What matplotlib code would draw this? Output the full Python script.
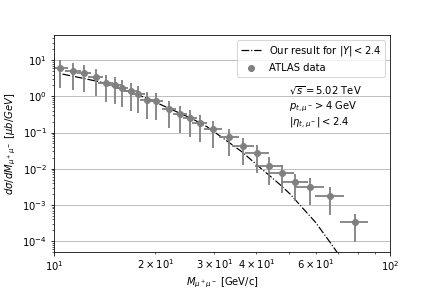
import numpy as np
import matplotlib
matplotlib.use("Agg")
import matplotlib.pyplot as plt

# ATLAS data
m_data = [10.42, 11.41, 12.31, 13.31, 14.25, 15.19, 15.90, 16.95, 17.82, 18.88,
          20.12, 21.99, 23.71, 25.39, 27.20, 29.80, 33.25, 36.59, 40.3, 43.7,
          47.7, 52.0, 57.8, 66.3, 78.5]
xs_data = [5.9, 4.97, 4.3, 3.33, 2.28, 2.05, 1.66, 1.40, 1.15, 0.79,
           0.74, 0.44, 0.325, 0.247, 0.18, 0.125, 0.074, 0.0426, 0.0268, 0.012,
           0.0075, 0.0043, 0.0032, 0.00178, 0.000335]
m_err = [0.55, 0.6, 0.6, 0.65, 0.7, 0.7, 0.75, 0.8, 0.85, 0.9,
         0.95, 1.0, 1.1, 1.2, 1.4, 1.8, 2.3, 2.7, 3.2, 4.2,
         4.0, 4.8, 6.0, 6.5, 7.5]
xs_err = [4.2, 3.5, 3.0, 2.3, 1.6, 1.45, 1.15, 1.0, 0.8, 0.55,
          0.52, 0.31, 0.23, 0.17, 0.125, 0.088, 0.052, 0.03, 0.019, 0.0085,
          0.0053, 0.003, 0.0022, 0.00125, 0.00024]

# our result (theory curve)
m_theory = [10.6, 12.0, 13.7, 16.5, 18.5, 19.3, 20.7, 23.7, 26.0, 28.5,
            31.9, 36.2, 40.8, 44.0, 47.1, 50.4, 53.3, 60.0, 65.9, 70.0]
xs_theory = [4.1, 3.25, 2.5, 1.4, 0.95, 0.82, 0.6, 0.34, 0.23, 0.145,
             0.069, 0.0295, 0.0112, 0.0062, 0.0036, 0.002, 0.00112, 0.00033, 0.0001, 4.5e-5]

fig = plt.figure(figsize=(6, 4), dpi=72)
ax = fig.add_subplot(111)
fig.subplots_adjust(left=0.125, right=0.903, bottom=0.125, top=0.878)

ax.plot(m_theory, xs_theory, '-.', color='black', lw=1.2, label='Our result for $|Y| < 2.4$')
ax.errorbar(m_data, xs_data, xerr=m_err, yerr=xs_err, fmt='none', ecolor='grey', elinewidth=1.8)
ax.plot(m_data, xs_data, 'o', color='grey', ms=6, label='ATLAS data')

ax.set_xscale('log')
ax.set_yscale('log')
ax.set_xlim(10, 100)
ax.set_ylim(5e-5, 49)
ax.grid(True, axis='y')

ax.set_xlabel(r'$M_{\mu^+\mu^-}$ [GeV/c]', labelpad=3)
ax.set_ylabel(r'$d\sigma/dM_{\mu^+\mu^-}$ [$\mu b/GeV$]')
ax.legend(loc='upper right')

ax.text(0.70, 0.745, r'$\sqrt{s} = 5.02$ TeV', transform=ax.transAxes, va='center')
ax.text(0.70, 0.67, r'$p_{t,\mu^-} > 4$ GeV', transform=ax.transAxes, va='center')
ax.text(0.70, 0.595, r'$|\eta_{t,\mu^-}| < 2.4$', transform=ax.transAxes, va='center')

fig.savefig('out.png', dpi=72)
